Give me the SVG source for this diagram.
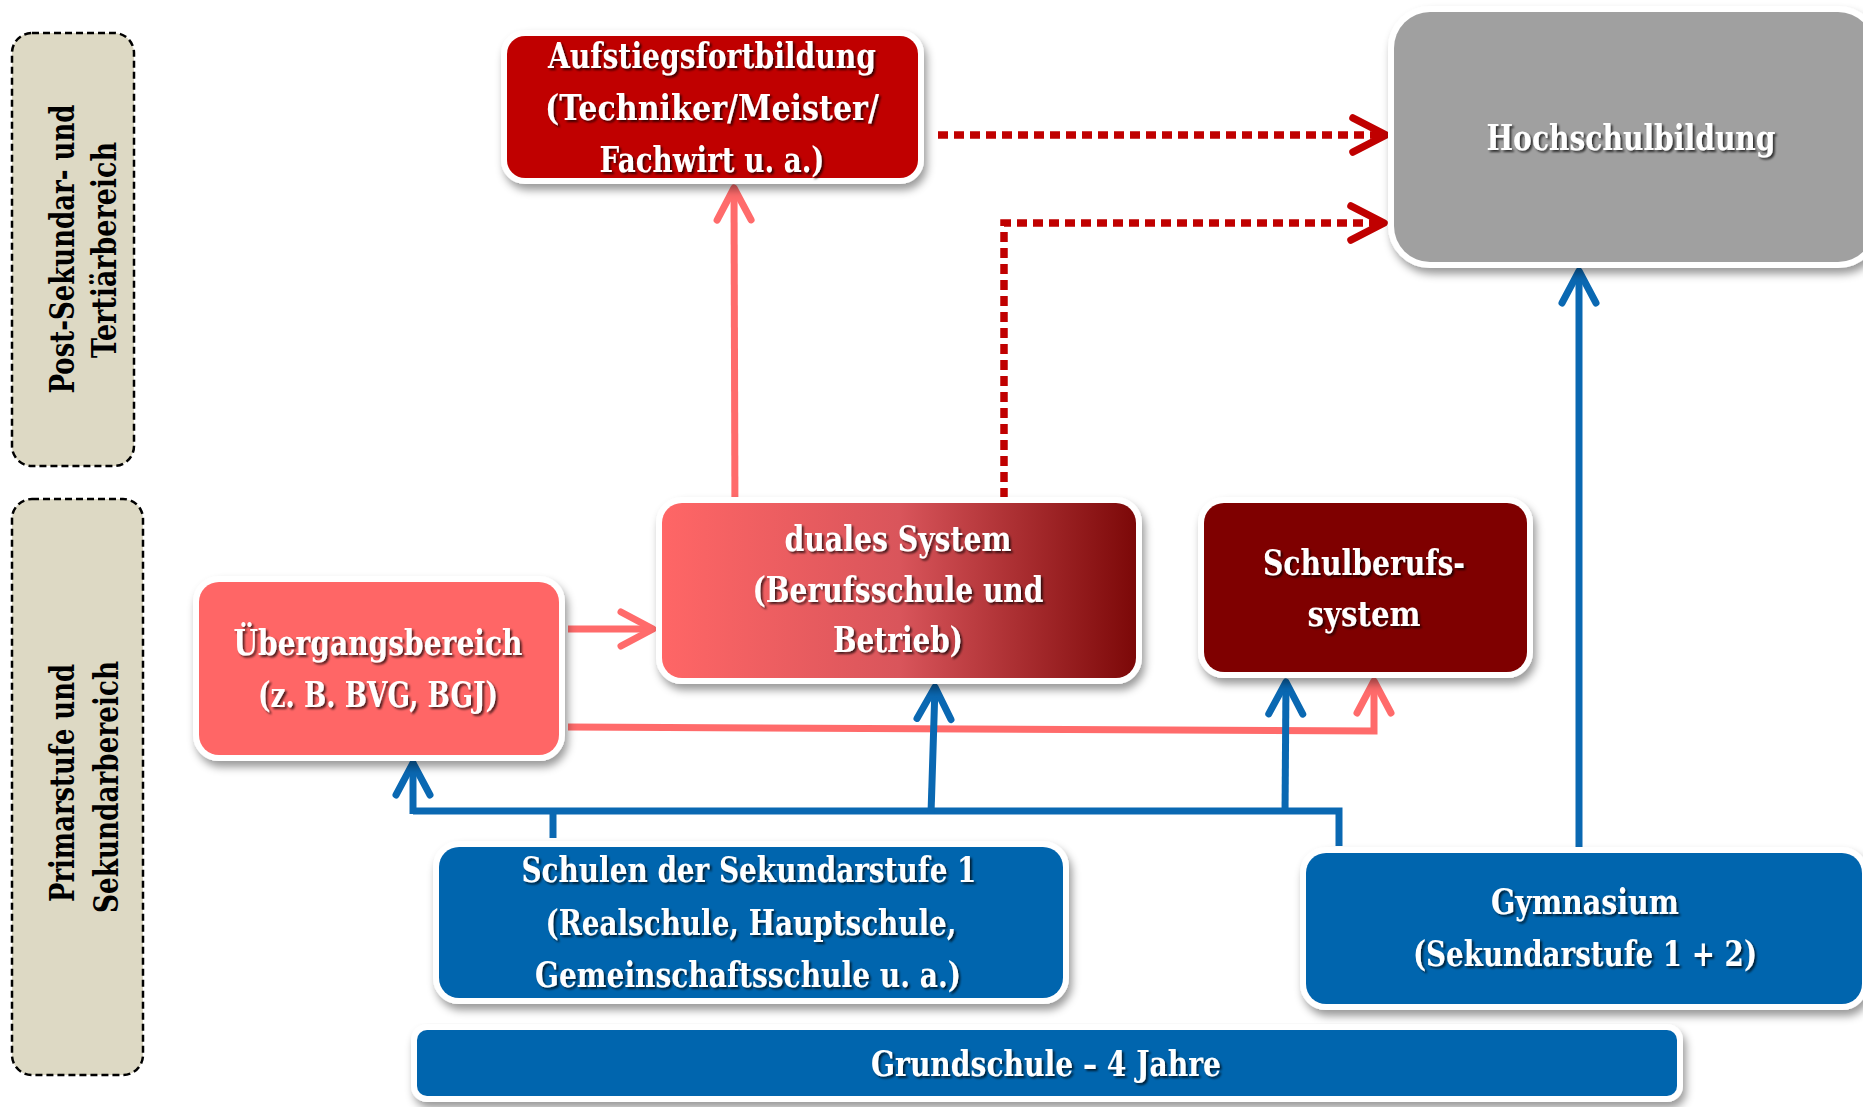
<svg xmlns="http://www.w3.org/2000/svg" width="1863" height="1107" viewBox="0 0 1863 1107">
<style>
.box{stroke:#fff;stroke-width:12;paint-order:stroke;filter:url(#bshadow)}
.plain{stroke:#fff;stroke-width:12;paint-order:stroke}
.t{font-family:"DejaVu Serif","Liberation Serif",serif;font-weight:bold;font-size:36px;fill:#fff;text-anchor:middle;filter:url(#tshadow)}
.lab{font-family:"DejaVu Serif","Liberation Serif",serif;font-weight:bold;font-size:34px;fill:#000;text-anchor:middle}
.side{fill:#DDD9C4;stroke:#000;stroke-width:2.5;stroke-dasharray:7 4}
.c{fill:none;stroke-width:7;stroke-linejoin:miter}
.pink{stroke:#FF6B6B;marker-end:url(#mPink)}
.blue{stroke:#0A68B2}
.red{stroke:#C00000;stroke-width:7.5;stroke-dasharray:10 6;marker-end:url(#mRed)}
</style>
<defs>
<filter id="bshadow" x="-10%" y="-10%" width="125%" height="130%">
<feDropShadow dx="3" dy="6" stdDeviation="4" flood-color="#000" flood-opacity="0.4"/>
</filter>
<filter id="tshadow" x="-5%" y="-20%" width="115%" height="150%">
<feDropShadow dx="2" dy="2" stdDeviation="1.2" flood-color="#000" flood-opacity="0.7"/>
</filter>
<linearGradient id="gDual" gradientUnits="userSpaceOnUse" x1="662" y1="0" x2="1136" y2="0">
<stop offset="0" stop-color="#FF6666"/>
<stop offset="0.5" stop-color="#D9555B"/>
<stop offset="1" stop-color="#7C0808"/>
</linearGradient>
<marker id="mPink" markerUnits="userSpaceOnUse" viewBox="-42 -24 48 48" refX="0" refY="0" markerWidth="48" markerHeight="48" orient="auto" overflow="visible">
<path d="M-32,-17 L0,0 L-32,17" fill="none" stroke="#FF6B6B" stroke-width="7" stroke-linecap="round" stroke-linejoin="round"/>
</marker>
<marker id="mBlue" markerUnits="userSpaceOnUse" viewBox="-42 -24 48 48" refX="0" refY="0" markerWidth="48" markerHeight="48" orient="auto" overflow="visible">
<path d="M-32,-17 L0,0 L-32,17" fill="none" stroke="#0A68B2" stroke-width="7" stroke-linecap="round" stroke-linejoin="round"/>
</marker>
<marker id="mRed" markerUnits="userSpaceOnUse" viewBox="-42 -24 48 48" refX="0" refY="0" markerWidth="48" markerHeight="48" orient="auto" overflow="visible">
<path d="M-33,-17 L0,0 L-33,17" fill="none" stroke="#C00000" stroke-width="7.5" stroke-dasharray="none" stroke-linecap="round" stroke-linejoin="round"/>
</marker>
</defs>
<rect width="1863" height="1107" fill="#fff"/>

<g id="label-post">
<rect class="side" x="12" y="33" width="122" height="433" rx="20"/>
<text class="lab" transform="translate(74,249) rotate(-90)" textLength="289" lengthAdjust="spacingAndGlyphs">Post-Sekundar- und</text>
<text class="lab" transform="translate(116,250) rotate(-90)" textLength="216" lengthAdjust="spacingAndGlyphs">Tertiärbereich</text>
</g>
<g id="label-prim">
<rect class="side" x="12" y="499" width="131" height="576" rx="20"/>
<text class="lab" transform="translate(74,783) rotate(-90)" textLength="238" lengthAdjust="spacingAndGlyphs">Primarstufe und</text>
<text class="lab" transform="translate(118,787) rotate(-90)" textLength="252" lengthAdjust="spacingAndGlyphs">Sekundarbereich</text>
</g>

<g id="connectors">
<path class="c pink" d="M735,528 L734,188"/>
<path class="c pink" d="M568,629 L653,629"/>
<path class="c pink" d="M568,727 L1374,731 L1374,681"/>
<path class="c red" d="M938,135 L1386,135"/>
<path class="c red" d="M1004,498 L1004,223 L1384,223"/>
<path class="c blue" d="M413,811 L1339,811 L1339,846"/>
<path class="c blue" d="M553,811 L553,838"/>
<path class="c blue" d="M413,814 L413,763" marker-end="url(#mBlue)"/>
<path class="c blue" d="M931,814 L935,687" marker-end="url(#mBlue)"/>
<path class="c blue" d="M1285,814 L1286,682" marker-end="url(#mBlue)"/>
<path class="c blue" d="M1579,848 L1579,271" marker-end="url(#mBlue)"/>
</g>

<g id="aufstieg">
<rect class="box" x="507" y="36" width="411" height="142" rx="18" fill="#C00000"/>
<text class="t" x="712" y="68" textLength="328" lengthAdjust="spacingAndGlyphs">Aufstiegsfortbildung</text>
<text class="t" x="712" y="120" textLength="334" lengthAdjust="spacingAndGlyphs">(Techniker/Meister/</text>
<text class="t" x="712" y="172" textLength="225" lengthAdjust="spacingAndGlyphs">Fachwirt u. a.)</text>
</g>

<g id="hochschule">
<rect class="box" x="1394" y="12" width="480" height="250" rx="36" fill="#A0A0A0"/>
<text class="t" x="1631" y="150" textLength="289" lengthAdjust="spacingAndGlyphs">Hochschulbildung</text>
</g>

<g id="duales">
<rect class="box" x="662" y="503" width="474" height="175" rx="20" fill="#fff"/>
<rect x="662" y="503" width="474" height="175" rx="20" fill="url(#gDual)"/>
<text class="t" x="898" y="551" textLength="227" lengthAdjust="spacingAndGlyphs">duales System</text>
<text class="t" x="898" y="602" textLength="291" lengthAdjust="spacingAndGlyphs">(Berufsschule und</text>
<text class="t" x="898" y="652" textLength="130" lengthAdjust="spacingAndGlyphs">Betrieb)</text>
</g>

<g id="schulberuf">
<rect class="box" x="1204" y="503" width="323" height="169" rx="20" fill="#7F0000"/>
<text class="t" x="1364" y="575" textLength="202" lengthAdjust="spacingAndGlyphs">Schulberufs-</text>
<text class="t" x="1364" y="626" textLength="113" lengthAdjust="spacingAndGlyphs">system</text>
</g>

<g id="uebergang">
<rect class="box" x="199" y="582" width="360" height="173" rx="20" fill="#FF6666"/>
<text class="t" x="378" y="655" textLength="289" lengthAdjust="spacingAndGlyphs">Übergangsbereich</text>
<text class="t" x="378" y="707" textLength="240" lengthAdjust="spacingAndGlyphs">(z. B. BVG, BGJ)</text>
</g>

<g id="sek1">
<rect class="box" x="439" y="847" width="624" height="151" rx="20" fill="#0465AE"/>
<text class="t" x="749" y="882" textLength="455" lengthAdjust="spacingAndGlyphs">Schulen der Sekundarstufe 1</text>
<text class="t" x="751" y="935" textLength="411" lengthAdjust="spacingAndGlyphs">(Realschule, Hauptschule,</text>
<text class="t" x="748" y="987" textLength="426" lengthAdjust="spacingAndGlyphs">Gemeinschaftsschule u. a.)</text>
</g>

<g id="gymnasium">
<rect class="box" x="1306" y="853" width="556" height="151" rx="20" fill="#0465AE"/>
<text class="t" x="1585" y="914" textLength="188" lengthAdjust="spacingAndGlyphs">Gymnasium</text>
<text class="t" x="1585" y="966" textLength="344" lengthAdjust="spacingAndGlyphs">(Sekundarstufe 1 + 2)</text>
</g>

<g id="grundschule">
<rect class="box" x="417" y="1030" width="1260" height="66" rx="10" fill="#0465AE"/>
<text class="t" x="1046" y="1076" textLength="350" lengthAdjust="spacingAndGlyphs">Grundschule – 4 Jahre</text>
</g>
</svg>
